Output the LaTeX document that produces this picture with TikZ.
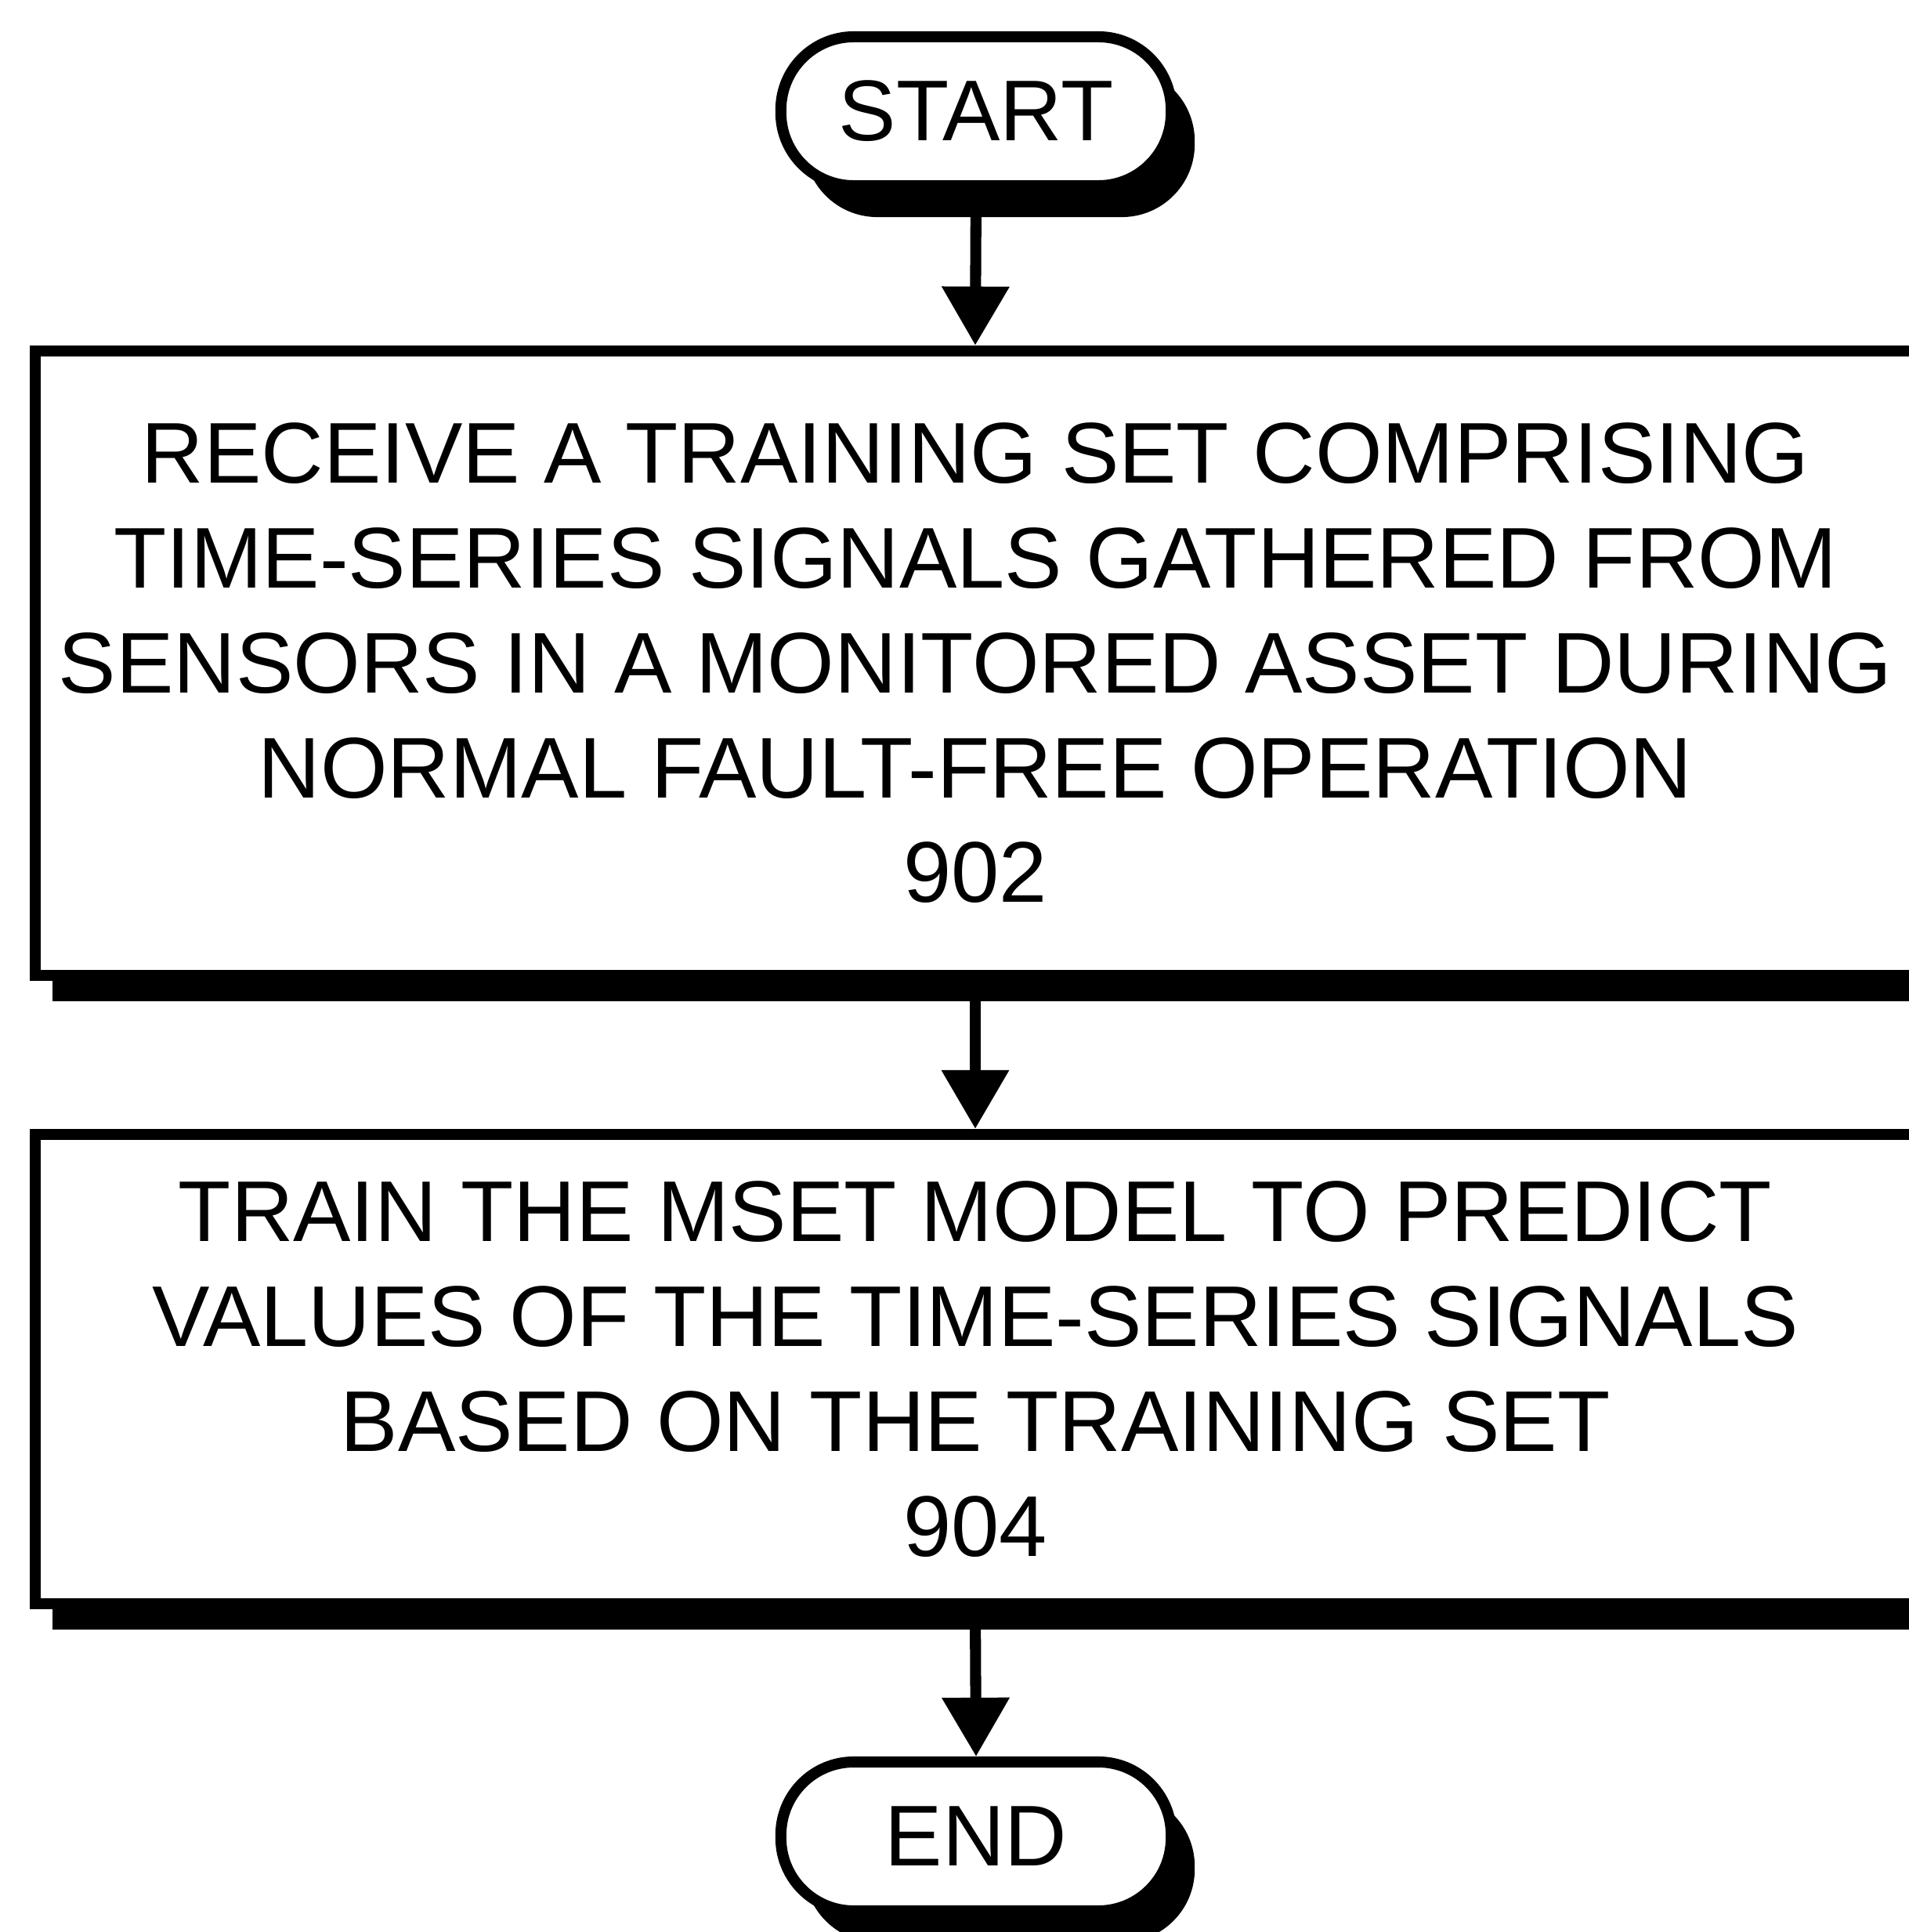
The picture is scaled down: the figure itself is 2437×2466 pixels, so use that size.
\documentclass[tikz,border=0pt]{standalone}
\usepackage{fontspec}
\setmainfont{Liberation Sans}
\usetikzlibrary{arrows.meta,shadows}
\begin{document}
\begin{tikzpicture}[x=0.01cm,y=-0.01cm,
  every node/.style={font=\fontsize{31.3}{38.04}\selectfont},
  procbox/.style={draw, line width=4pt, fill=white, align=center,
    minimum width=23.98cm, inner sep=0pt,
    general shadow={shadow xshift=0.22cm, shadow yshift=-0.33cm, fill=black}},
  term/.style={draw, line width=4pt, fill=white, rounded corners=0.93cm,
    minimum width=4.98cm, minimum height=1.9cm, inner sep=0pt,
    general shadow={shadow xshift=0.3cm, shadow yshift=-0.4cm, fill=black}},
  flow/.style={line width=4pt, -{Triangle[width=0.83cm,length=0.75cm]}}
]
\useasboundingbox (0,0) rectangle (2437,2466);
\clip (0,0) rectangle (2437,2466);

\node[term] (start) at (1246,142) {START};
\node[procbox, minimum height=7.97cm] (b1) at (1245,846.5)
  {RECEIVE A TRAINING SET COMPRISING\\TIME-SERIES SIGNALS GATHERED FROM\\SENSORS IN A MONITORED ASSET DURING\\NORMAL FAULT-FREE OPERATION\\902};
\node[procbox, minimum height=5.99cm] (b2) at (1245,1747.5)
  {TRAIN THE MSET MODEL TO PREDICT\\VALUES OF THE TIME-SERIES SIGNALS\\BASED ON THE TRAINING SET\\904};
\node[term] (end) at (1246,2344) {END};

\draw[flow] (start.south) -- (b1.north);
\draw[flow] (b1.south) -- (b2.north);
\draw[flow] (b2.south) -- (end.north);
\end{tikzpicture}
\end{document}
